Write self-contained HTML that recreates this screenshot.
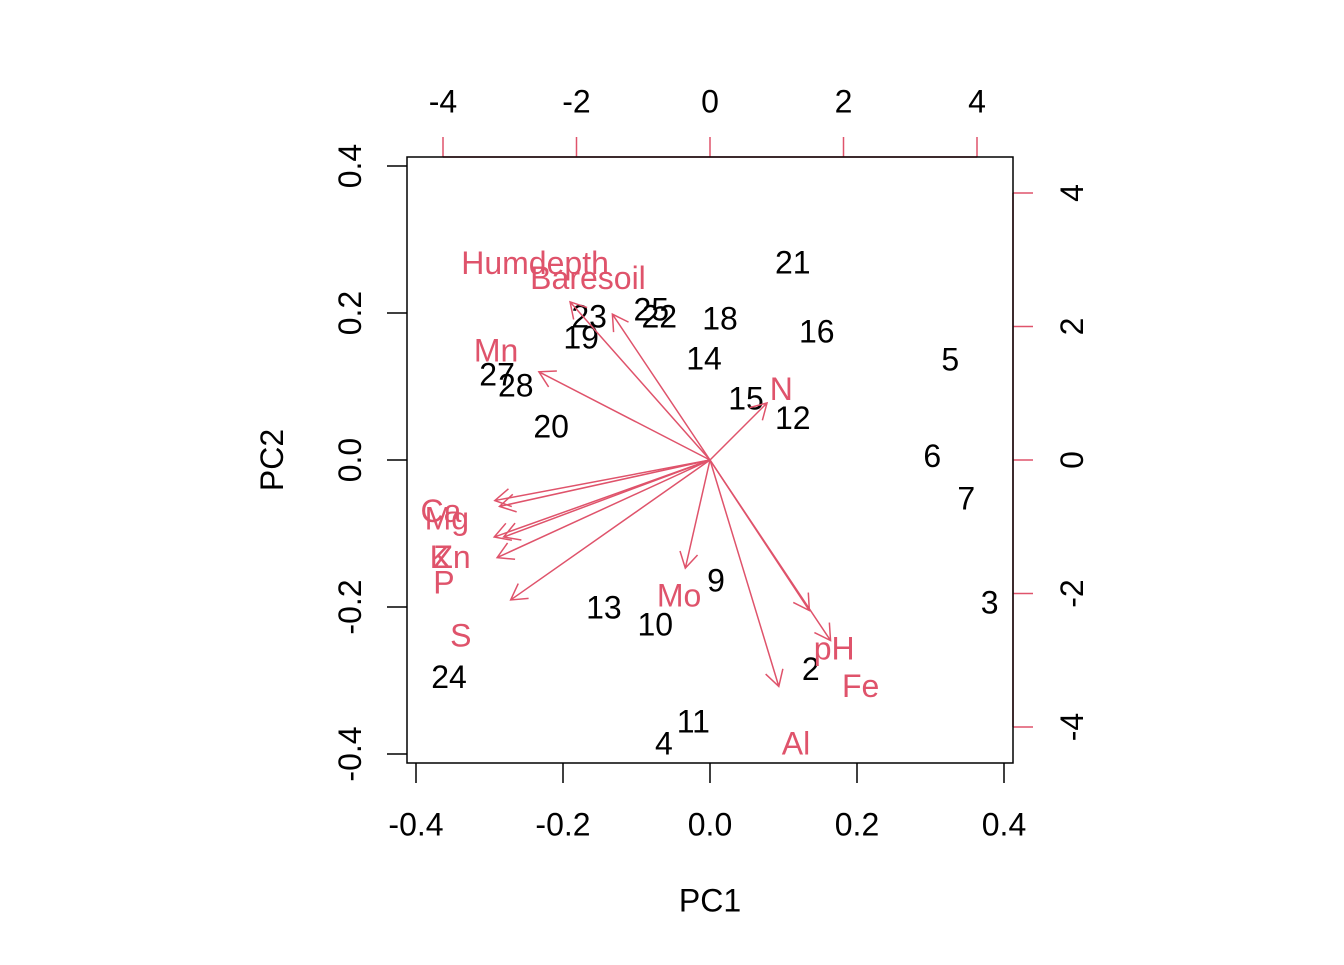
<!DOCTYPE html>
<html><head><meta charset="utf-8"><style>
html,body{margin:0;padding:0;background:#fff}
svg text{font-family:"Liberation Sans",Arial,sans-serif}
</style></head><body>
<svg id="chart" width="1344" height="960" xmlns="http://www.w3.org/2000/svg"></svg>
<script>
const obsLabels=["21","23","25","22","18","16","19","14","5","27","28","15","12","20","6","7","9","3","13","10","2","24","11","4"];
const obsPC1=[1.24,-1.81,-0.88,-0.76,0.15,1.60,-1.93,-0.09,3.60,-3.19,-2.91,0.54,1.24,-2.38,3.33,3.84,0.09,4.19,-1.59,-0.82,1.51,-3.91,-0.25,-0.69];
const obsPC2=[2.97,2.16,2.26,2.16,2.13,1.93,1.84,1.53,1.51,1.29,1.12,0.93,0.64,0.51,0.07,-0.57,-1.80,-2.13,-2.20,-2.46,-3.12,-3.24,-3.91,-4.24];
const varNames=["Humdepth","Baresoil","Mn","N","Ca","Mg","K","Zn","P","S","Mo","pH","Fe","Al"];
const varPC1=[-0.238,-0.166,-0.291,0.097,-0.366,-0.358,-0.367,-0.351,-0.362,-0.339,-0.042,0.169,0.205,0.117];
const varPC2=[0.269,0.248,0.150,0.097,-0.069,-0.079,-0.131,-0.131,-0.166,-0.238,-0.184,-0.256,-0.307,-0.385];
const loadTicks=[-0.4,-0.2,0.0,0.2,0.4];
const loadTickLabels=["-0.4","-0.2","0.0","0.2","0.4"];
const scoreTicks=[-4,-2,0,2,4];
const scoreTickLabels=["-4","-2","0","2","4"];

const svg=document.getElementById('chart');
const NS="http://www.w3.org/2000/svg";
const RED="#DF536B";
const FS=32, OFF=11.5;
const lx=v=>710+v*735, ly=v=>460-v*735;
const sx=v=>710+v*66.75, sy=v=>460-v*66.75;
function mk(tag,attrs,txt){const e=document.createElementNS(NS,tag);for(const k in attrs)e.setAttribute(k,attrs[k]);if(txt!==undefined)e.textContent=txt;svg.appendChild(e);return e;}

// top axis (red, drawn under box)
let ta=mk('line',{x1:sx(-4),x2:sx(4),y1:157,y2:157,stroke:RED,'stroke-width':1.5});


scoreTicks.forEach((v,i)=>{
  let t=mk('line',{x1:sx(v),x2:sx(v),y1:157,y2:137,stroke:RED,'stroke-width':1.5});
  
  
  let l=mk('text',{x:sx(v),y:101+OFF,'font-size':FS,'text-anchor':'middle'},scoreTickLabels[i]);
  
  
});
// right axis
let ra=mk('line',{x1:1013,x2:1013,y1:sy(4),y2:sy(-4),stroke:RED,'stroke-width':1.5});


scoreTicks.forEach((v,i)=>{
  let t=mk('line',{x1:1013,x2:1033,y1:sy(v),y2:sy(v),stroke:RED,'stroke-width':1.5});
  
  
  let l=mk('text',{x:1072,y:sy(v),'font-size':FS,'text-anchor':'middle','dominant-baseline':'central',transform:`rotate(-90 1072 ${sy(v)})`},scoreTickLabels[i]);
  
  
});

let box=mk('rect',{x:407,y:157,width:606,height:606,fill:'none',stroke:'#000','stroke-width':1.5});



loadTicks.forEach((v,i)=>{
  let t=mk('line',{x1:lx(v),x2:lx(v),y1:763,y2:783,stroke:'#000','stroke-width':1.5});
  
  
  let l=mk('text',{x:lx(v),y:824+OFF,'font-size':FS,'text-anchor':'middle'},loadTickLabels[i]);
  
  
});
loadTicks.forEach((v,i)=>{
  let t=mk('line',{x1:387,x2:407,y1:ly(v),y2:ly(v),stroke:'#000','stroke-width':1.5});
  
  
  let l=mk('text',{x:350,y:ly(v),'font-size':FS,'text-anchor':'middle','dominant-baseline':'central',transform:`rotate(-90 350 ${ly(v)})`},loadTickLabels[i]);
  
  
});
let xt=mk('text',{x:710,y:900+OFF,'font-size':FS,'text-anchor':'middle'},'PC1');


let yt=mk('text',{x:272,y:460,'font-size':FS,'text-anchor':'middle','dominant-baseline':'central',transform:'rotate(-90 272 460)'},'PC2');



obsLabels.forEach((s,i)=>{
  let t=mk('text',{x:sx(obsPC1[i]),y:sy(obsPC2[i])+OFF,'font-size':FS,'text-anchor':'middle'},s);
  
  
});
varNames.forEach((n,i)=>{
  const x2=lx(0.8*varPC1[i]), y2=ly(0.8*varPC2[i]);
  const ang=Math.atan2(y2-460,x2-710), L=18, a=Math.PI/6;
  const h1=[x2-L*Math.cos(ang-a),y2-L*Math.sin(ang-a)], h2=[x2-L*Math.cos(ang+a),y2-L*Math.sin(ang+a)];
  let p=mk('path',{d:`M710,460L${x2},${y2}M${h1[0]},${h1[1]}L${x2},${y2}L${h2[0]},${h2[1]}`,fill:'none',stroke:RED,'stroke-width':1.5});
  
  
  let t=mk('text',{x:lx(varPC1[i]),y:ly(varPC2[i])+OFF,'font-size':FS,'text-anchor':'middle',fill:RED},n);
  
  
});
</script>
</body></html>
